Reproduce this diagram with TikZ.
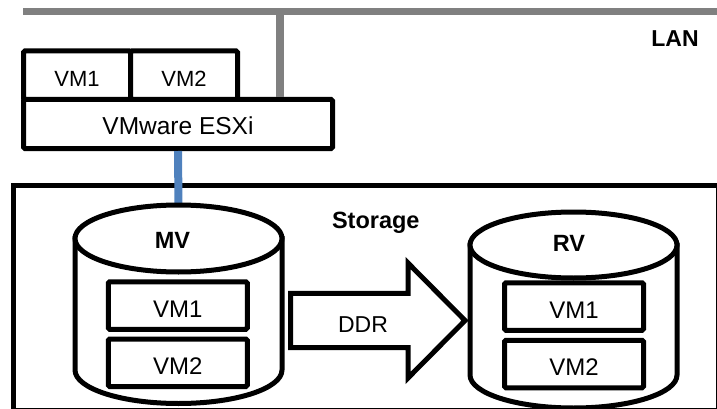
\documentclass[tikz,border=0pt]{standalone}
\usepackage{fontspec}
\setmainfont{Liberation Sans}
\definecolor{langray}{RGB}{128,128,128}
\definecolor{linkblue}{RGB}{79,129,189}
\begin{document}
\begin{tikzpicture}[x=1pt,y=-1pt,
  box/.style={draw, line width=5pt, rounded corners=1.5pt, inner sep=0pt, fill=white, text depth=0pt},
  topvm/.style={box, minimum width=107pt, minimum height=48.5pt, font=\fontsize{22}{26}\selectfont, text height=22.5pt},
  hostbox/.style={box, minimum width=309pt, minimum height=49pt, font=\fontsize{24.5}{29}\selectfont, text height=21pt},
  invm/.style={box, minimum width=139pt, minimum height=47.5pt, font=\fontsize{24}{28}\selectfont, text height=23pt},
  cyl/.style={draw, line width=5pt, fill=white},
  boldlabel/.style={anchor=base, inner sep=0pt, font=\fontsize{23.5}{28}\bfseries\selectfont},
  plainlabel/.style={anchor=base, inner sep=0pt, font=\fontsize{23}{28}\selectfont},
  bus/.style={draw=langray, line width=7pt},
  drop/.style={draw=langray, line width=8pt},
  link/.style={draw=linkblue, line width=8pt},
  bigarrow/.style={draw, line width=5pt, miter limit=10, fill=white}
]
\useasboundingbox (0,0) rectangle (717,409);

% LAN bus
\coordinate (lanL) at (23,12);
\coordinate (lanR) at (717,12);
\coordinate (tap) at (280,12);
\draw[bus] (lanL) -- (lanR);
\node[boldlabel, font=\fontsize{23}{28}\bfseries\selectfont] (lan) at (675,47) {LAN};

% Host
\node[hostbox] (esxi) at (178,124) {VMware ESXi};
\draw[drop] (tap) -- (tap |- esxi.north);
\node[topvm] (hvm1) at (77,75.25) {VM1};
\node[topvm] (hvm2) at (184,75.25) {VM2};

% Storage frame
\draw[line width=5pt] (13,185) rectangle (718.5,410.5);
\node[boldlabel] (storage) at (375.8,228.3) {Storage};

% link host -> MV
\coordinate (mvtop) at (178.5,205);
\draw[link] (esxi.south) -- (mvtop);

% MV cylinder
\draw[cyl] (75,238.5) -- (75,370) arc[start angle=180, end angle=360, x radius=103.5pt, y radius=33.5pt] -- (282,238.5) -- cycle;
\draw[cyl] (178.5,238.5) ellipse[x radius=103.5pt, y radius=33.5pt];
\node[boldlabel] (mv) at (172.5,248) {MV};
\node[invm] (mvvm1) at (177.75,305.5) {VM1};
\node[invm] (mvvm2) at (177.75,362.75) {VM2};

% RV cylinder
\draw[cyl] (470,245) -- (470,375) arc[start angle=180, end angle=360, x radius=103.5pt, y radius=33pt] -- (677,245) -- cycle;
\draw[cyl] (573.5,245) ellipse[x radius=103.5pt, y radius=33pt];
\node[boldlabel] (rv) at (569,251.5) {RV};
\node[invm] (rvvm1) at (574,306.5) {VM1};
\node[invm] (rvvm2) at (574,364) {VM2};

% DDR arrow
\draw[bigarrow] (290.5,293.3) -- (408,293.3) -- (408,263) -- (465,320.5) -- (408,378) -- (408,347.7) -- (290.5,347.7) -- cycle;
\node[plainlabel] (ddr) at (363,332.5) {DDR};
\end{tikzpicture}
\end{document}
